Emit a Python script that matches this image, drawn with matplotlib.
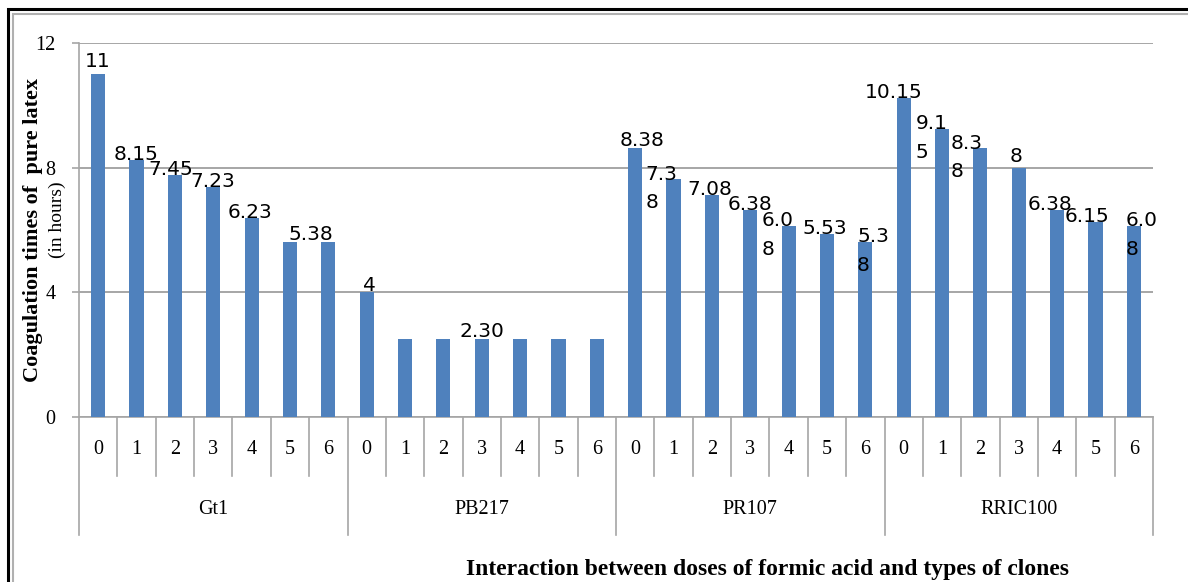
import matplotlib.pyplot as plt
import matplotlib.transforms as mtransforms
from matplotlib.patches import Rectangle

# Data: coagulation time (decimal hours) per clone and formic acid dose
clones = ['Gt1', 'PB217', 'PR107', 'RRIC100']
doses = ['0', '1', '2', '3', '4', '5', '6']
gt1 = [11.0, 8.25, 7.75, 7.38, 6.38, 5.63, 5.63]
pb217 = [4.0, 2.5, 2.5, 2.5, 2.5, 2.5, 2.5]
pr107 = [8.63, 7.63, 7.13, 6.63, 6.13, 5.88, 5.63]
rric100 = [10.25, 9.25, 8.63, 8.0, 6.63, 6.25, 6.13]

# value labels as printed (h.mm), None = no label
gt1_lbl = ['11', '8.15', '7.45', '7.23', '6.23', None, '5.38']
pb217_lbl = ['4', None, None, '2.30', None, None, None]
pr107_lbl = ['8.38', '7.3\n8', '7.08', '6.38', '6.0\n8', '5.53', '5.3\n8']
rric100_lbl = ['10.15', '9.1\n5', '8.3\n8', '8', '6.38', '6.15', '6.0\n8']

# label shifts (x in bar slots, y in hours) to mimic the hand-placed labels
lbl_dx = [0.0, 0.0, -0.1, 0.0, -0.05, 0.0, -0.45,
          0.06, 0.0, 0.0, 0.0, 0.0, 0.0, 0.0,
          0.19, -0.31, -0.05, 0.0, -0.28, -0.05, 0.2,
          -0.26, -0.27, -0.35, -0.07, -0.19, -0.23, 0.2]
lbl_dy = [0.22, 0, 0, 0, 0, 0, 0.05,
          0.05, 0, 0, 0.07, 0, 0, 0,
          0.07, 0, 0, 0, 0, 0, 0,
          0, 0, 0, 0.17, 0, 0, 0]

values = gt1 + pb217 + pr107 + rric100
labels = gt1_lbl + pb217_lbl + pr107_lbl + rric100_lbl
n = len(values)
x = list(range(n))

W, H = 1188, 582
fig = plt.figure(figsize=(W / 100, H / 100), dpi=100)
ax = fig.add_axes([79 / W, 1 - 417 / H, (1153 - 79) / W, (417 - 43) / H])

grid_c = '#a6a6a6'
ax.bar(x, values, width=0.37, color='#4f81bd', zorder=3)

ax.set_xlim(-0.5, n - 0.5)
ax.set_ylim(0, 12)
ax.set_yticks([0, 4, 8, 12])
ax.set_yticklabels(['0', '4', '8', '12'], family='Liberation Serif', fontsize=14.5)
ax.tick_params(axis='y', length=5, width=1.2, color=grid_c, pad=12)
ax.set_xticks([])
ax.yaxis.grid(True, color=grid_c, lw=1.4, zorder=0)
for s in ['top', 'right']:
    ax.spines[s].set_visible(False)
ax.spines['left'].set_color(grid_c)
ax.spines['bottom'].set_color(grid_c)
ax.spines['left'].set_linewidth(1.2)
ax.spines['bottom'].set_linewidth(1.2)

# value labels (wrapped ones: first line sits on the bar top)
for i, (v, t) in enumerate(zip(values, labels)):
    if t is None:
        continue
    y = v + lbl_dy[i]
    if '\n' in t:
        y -= 0.93
    ax.text(i + lbl_dx[i], y, t, ha='center', va='baseline',
            multialignment='left', family='DejaVu Sans', fontsize=14.5,
            linespacing=1.63, zorder=4)

# two-level category axis
trans = mtransforms.blended_transform_factory(ax.transData, ax.transAxes)
for i in range(n):
    ax.text(i, -0.088, doses[i % 7], transform=trans, ha='center', va='center',
            family='Liberation Serif', fontsize=14.5)
for i in range(n + 1):
    low = -0.3155 if i % 7 == 0 else -0.158
    ax.plot([i - 0.5, i - 0.5], [0, low], transform=trans, color=grid_c,
            lw=1.2, clip_on=False)
for g, name in enumerate(clones):
    ax.text(g * 7 + 3, -0.246, name, transform=trans, ha='center', va='center',
            family='Liberation Serif', fontsize=14.5)

# axis titles
fig.text(33 / W, 1 - 230 / H, 'Coagulation times of  pure latex', rotation=90,
         ha='center', va='center', family='Liberation Serif', fontweight='bold',
         fontsize=16)
fig.text(57 / W, 1 - 220 / H, '(in hours)', rotation=90, ha='center', va='center',
         family='Liberation Serif', fontsize=14)
fig.text(767 / W, 1 - 569 / H, 'Interaction between doses of formic acid and types of clones',
         ha='center', va='center', family='Liberation Serif', fontweight='bold',
         fontsize=17)

# double frame around the chart
fig.add_artist(Rectangle((7.5 / W, -0.1), 1.2, 1 - 8.8 / H + 0.1, transform=fig.transFigure,
                         fill=False, edgecolor='black', lw=2.2))
fig.add_artist(Rectangle((13 / W, -0.1), 1.2, 1 - 14.3 / H + 0.1, transform=fig.transFigure,
                         fill=False, edgecolor='#b0b0b0', lw=1.5))

fig.savefig('out.png', dpi=100)
